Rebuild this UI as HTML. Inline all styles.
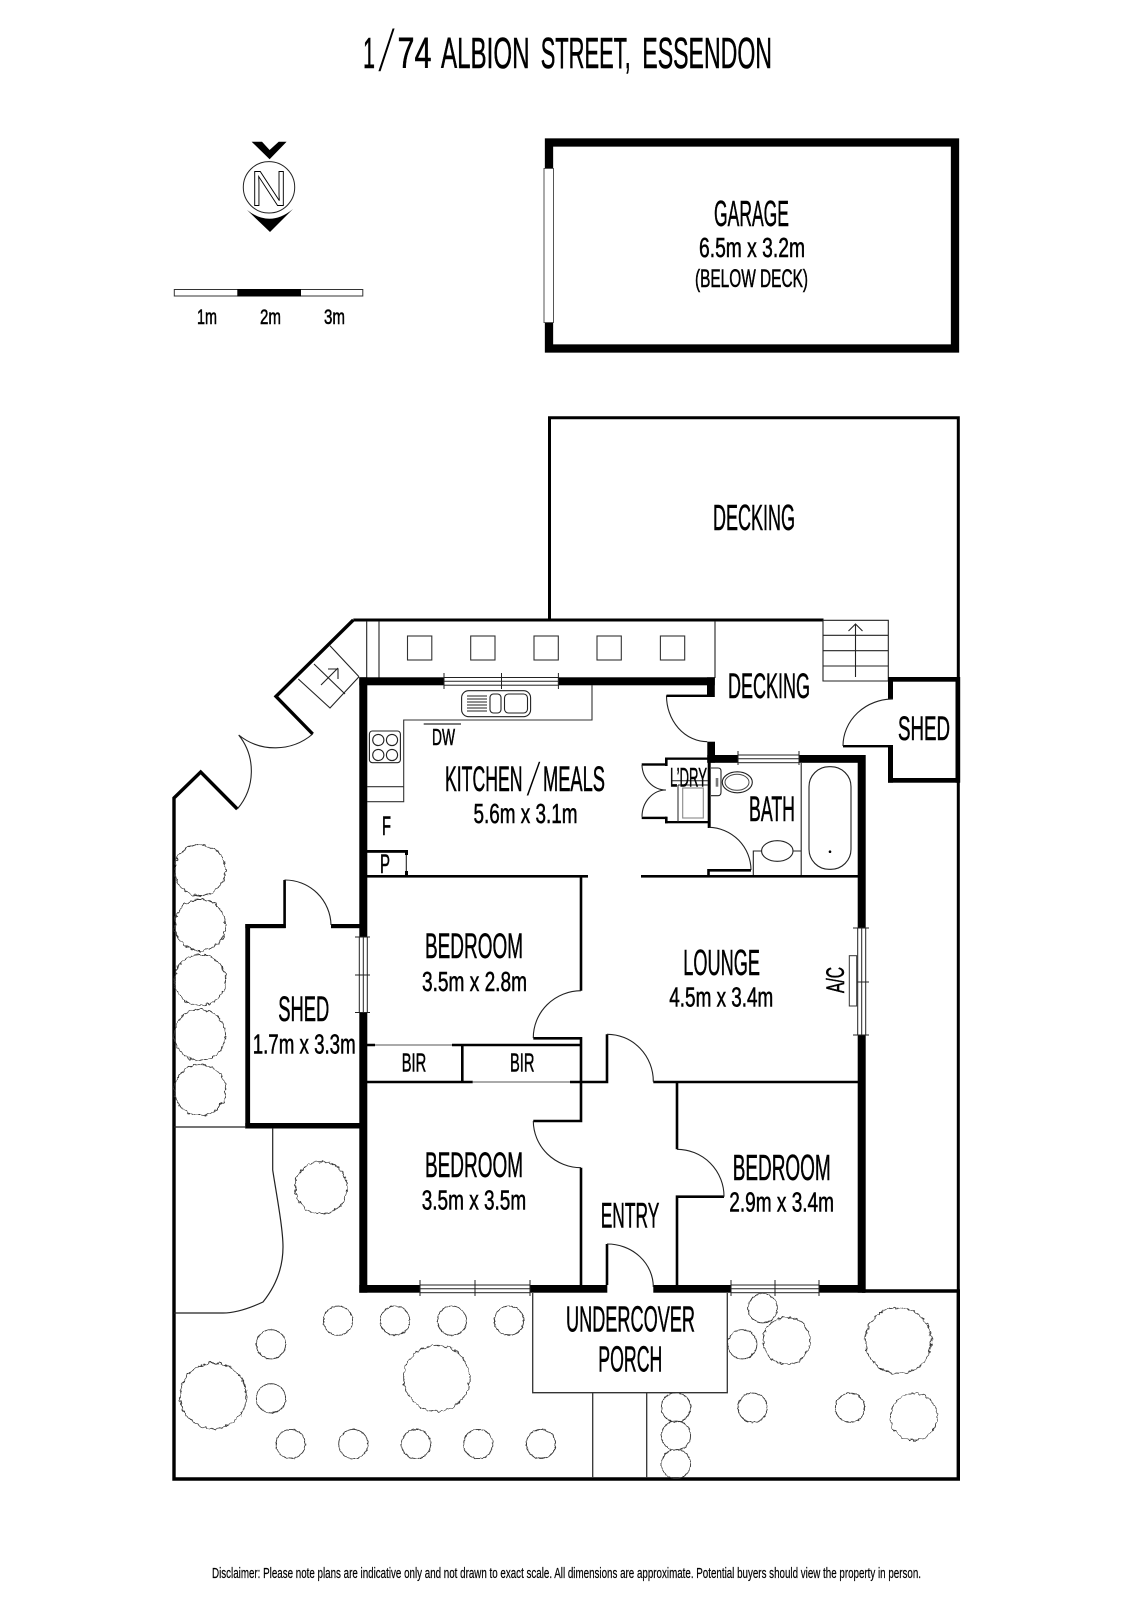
<!DOCTYPE html>
<html><head><meta charset="utf-8"><title>1/74 Albion Street, Essendon</title>
<style>html,body{margin:0;padding:0;background:#fff}svg{display:block}
text{font-family:"Liberation Sans",sans-serif;fill:#000;stroke:#000;stroke-width:.55}</style></head>
<body>
<svg xmlns="http://www.w3.org/2000/svg" width="1131" height="1600" viewBox="0 0 1131 1600">
<defs>
<filter id="s" x="-15%" y="-15%" width="130%" height="130%" color-interpolation-filters="sRGB"><feTurbulence type="fractalNoise" baseFrequency=".3" numOctaves="2" seed="4"/><feDisplacementMap in="SourceGraphic" scale="2.2" xChannelSelector="R" yChannelSelector="G"/></filter>
<filter id="b" x="-15%" y="-15%" width="130%" height="130%" color-interpolation-filters="sRGB"><feTurbulence type="fractalNoise" baseFrequency=".22" numOctaves="2" seed="9"/><feDisplacementMap in="SourceGraphic" scale="5" xChannelSelector="R" yChannelSelector="G"/></filter>
</defs>
<rect width="1131" height="1600" fill="#fff"/>

<!-- title -->
<text x="376" y="72" font-size="62" textLength="21" lengthAdjust="spacingAndGlyphs" style="stroke:#fff;stroke-width:3">/</text>
<g style="stroke-width:.8">
<text x="363" y="68" font-size="44" textLength="12" lengthAdjust="spacingAndGlyphs">1</text>
<text x="397.5" y="68" font-size="44" textLength="34" lengthAdjust="spacingAndGlyphs">74</text>
<text x="441" y="68" font-size="44" textLength="88.6" lengthAdjust="spacingAndGlyphs">ALBION</text>
<text x="540.7" y="68" font-size="44" textLength="90" lengthAdjust="spacingAndGlyphs">STREET,</text>
<text x="642.3" y="68" font-size="44" textLength="129.7" lengthAdjust="spacingAndGlyphs">ESSENDON</text>
</g>

<!-- north -->
<polygon points="251.6,141.7 262,141.7 269.6,150 278.7,141.7 286.6,141.7 269.6,159.3"/>
<circle cx="269" cy="187.3" r="25.7" fill="none" stroke="#222" stroke-width="1"/>
<text x="250.5" y="205.5" font-size="49" textLength="37" lengthAdjust="spacingAndGlyphs" style="fill:#fff;stroke:#000;stroke-width:.9">N</text>
<path d="M247,210Q270,228 293,209L270,232Z"/>

<!-- scale -->
<rect x="174.3" y="289.5" width="188.5" height="6.5" fill="#fff" stroke="#333" stroke-width="1"/>
<rect x="237.3" y="289" width="63.7" height="7.5"/>
<text x="197" y="324" font-size="21" textLength="20" lengthAdjust="spacingAndGlyphs">1m</text>
<text x="260" y="324" font-size="21" textLength="21" lengthAdjust="spacingAndGlyphs">2m</text>
<text x="324" y="324" font-size="21" textLength="21" lengthAdjust="spacingAndGlyphs">3m</text>

<!-- garage -->
<rect x="549" y="142.5" width="406" height="206" fill="none" stroke="#000" stroke-width="8.3"/>
<rect x="544" y="168.5" width="9.5" height="154" fill="#fff" stroke="#555" stroke-width="1"/>
<text x="714" y="226" font-size="36" textLength="75" lengthAdjust="spacingAndGlyphs">GARAGE</text>
<text x="699" y="257" font-size="28" textLength="106" lengthAdjust="spacingAndGlyphs">6.5m x 3.2m</text>
<text x="695" y="287" font-size="25" textLength="113" lengthAdjust="spacingAndGlyphs">(BELOW DECK)</text>

<!-- decking outline -->
<path d="M549.5,620V417.7H958.3V1291M353.3,620H823.5" fill="none" stroke="#000" stroke-width="3"/>
<text x="713" y="530" font-size="36" textLength="82" lengthAdjust="spacingAndGlyphs">DECKING</text>

<!-- yard outline -->
<path d="M353.3,620L276,696.4 312.7,734M237.3,809L200.7,772 174,798V1479H958.3V1291H862" fill="none" stroke="#000" stroke-width="3.4"/>
<path d="M312.7,734A58,58 0 0 1 238.7,735A58,58 0 0 1 237.3,809" fill="none" stroke="#222" stroke-width="1.1"/>

<!-- left stairs -->
<path d="M330,645.7L359,676.8M314,664L345,694M298.3,679L330,708 359,676.8M321,685L338,668M328,669h10v10" fill="none" stroke="#222" stroke-width="1.1"/>

<!-- deck lines/squares -->
<path d="M366.7,621V678M379,621V678M715,621V678" fill="none" stroke="#222" stroke-width="1.1"/>
<g fill="none" stroke="#333" stroke-width="1.1">
<rect x="407.5" y="636" width="24.3" height="24"/>
<rect x="470.7" y="636" width="24.3" height="24"/>
<rect x="534" y="636" width="24.3" height="24"/>
<rect x="597" y="636" width="24.3" height="24"/>
<rect x="660.4" y="636" width="24.3" height="24"/>
</g>

<!-- right stairs -->
<path d="M823,620.3H888.3V681H823ZM823,635.3H888.3M823,650.7H888.3M823,666H888.3M855.5,677V624M848.5,631L855.5,624 862.5,631" fill="none" stroke="#222" stroke-width="1.1"/>

<!-- thick walls -->
<g fill="#000">
<rect x="359.3" y="677.3" width="8" height="615.4"/>
<rect x="359.3" y="677.3" width="85" height="8"/>
<rect x="558.4" y="677.3" width="156.4" height="8"/>
<rect x="707" y="677.3" width="7.8" height="19.7"/>
<rect x="707.3" y="741.7" width="7.7" height="21"/>
<rect x="707.3" y="755" width="31" height="7.8"/>
<rect x="799" y="755" width="66.5" height="7.8"/>
<rect x="857.7" y="755" width="8" height="537.7"/>
<rect x="359.3" y="1285" width="61" height="7.7"/>
<rect x="530" y="1285" width="77.3" height="7.7"/>
<rect x="653.3" y="1285" width="77.4" height="7.7"/>
<rect x="819" y="1285" width="46" height="7.7"/>
<!-- east shed -->
<rect x="888" y="677" width="72" height="4.7"/>
<rect x="955.5" y="677" width="4.7" height="105.7"/>
<rect x="888" y="778" width="72" height="4.7"/>
<rect x="888" y="677" width="5" height="22"/>
<rect x="888" y="745.7" width="5" height="37"/>
<rect x="843" y="745" width="50" height="2.4"/>
<!-- west shed -->
<rect x="245.3" y="924" width="4.8" height="204.5"/>
<rect x="245.3" y="924" width="40.4" height="4.2"/>
<rect x="283.3" y="880" width="2.6" height="48"/>
<rect x="331" y="924" width="30" height="4.2"/>
<rect x="245.3" y="1123" width="116" height="5.5"/>
</g>
<path d="M174,1127H246M272.7,1128V1170C276,1192 283,1228 283,1247C283,1262 279,1282 263,1302C250,1308 235,1313 223,1313H174" fill="none" stroke="#222" stroke-width="1.2"/>
<path d="M284.5,880A46,46 0 0 1 331,925M843,746A50,47 0 0 1 893,699M666.5,695.5A41,46 0 0 0 707.3,741.7" fill="none" stroke="#222" stroke-width="1.1"/>
<rect x="666.5" y="694.6" width="41" height="2.4"/>

<!-- windows -->
<g fill="#fff" stroke="#222" stroke-width="1">
<rect x="444" y="677.5" width="114.4" height="7.7"/><path d="M444,681.3H558.4M444,673V689M501.5,673V689M558.4,673V689" fill="none"/>
<rect x="738" y="755" width="61" height="7.7"/><path d="M738,758.8H799M738,751V765M799,751V765" fill="none"/>
<rect x="359.3" y="937" width="8" height="75.5"/><path d="M363.3,937V1012.5M355,937H370M355,975H370M355,1012.5H370" fill="none"/>
<rect x="857.7" y="928" width="8" height="107"/><path d="M861.7,928V1035M853,928H869M853,982H869M853,1035H869" fill="none"/>
<rect x="420" y="1285" width="110" height="7.7"/><path d="M420,1288.8H530M420,1280V1296M475,1280V1296M530,1280V1296" fill="none"/>
<rect x="731" y="1285" width="88" height="7.7"/><path d="M731,1288.8H819M731,1280V1296M775,1280V1296M819,1280V1296" fill="none"/>
</g>

<!-- kitchen -->
<path d="M592,685V720H403.7V801.7H367M367,786.7H403.7" fill="none" stroke="#333" stroke-width="1.1"/>
<rect x="423.7" y="723.4" width="37.3" height="1.2" fill="#222"/>
<rect x="461.6" y="690.7" width="69" height="26" rx="7" fill="#fff" stroke="#222" stroke-width="1.1"/>
<rect x="490" y="694" width="11" height="19" rx="3.5" fill="none" stroke="#222" stroke-width="1.1"/>
<rect x="504.5" y="694" width="23" height="19" rx="4" fill="none" stroke="#222" stroke-width="1.1"/>
<path d="M467,696H487M467,699H487M467,702H487M467,705H487M467,708H487M467,711H487" stroke="#222" stroke-width="1"/>
<rect x="369.4" y="731" width="31" height="31.7" rx="3" fill="#fff" stroke="#222" stroke-width="1.1"/>
<g fill="none" stroke="#222" stroke-width="1.1"><circle cx="378.3" cy="740" r="5.6"/><circle cx="392" cy="740" r="5.6"/><circle cx="378.3" cy="755" r="5.6"/><circle cx="392" cy="755" r="5.6"/></g>
<text x="432" y="745" font-size="23" textLength="23" lengthAdjust="spacingAndGlyphs">DW</text>
<text x="382" y="835" font-size="27" textLength="9" lengthAdjust="spacingAndGlyphs">F</text>
<text x="380" y="873" font-size="27" textLength="10" lengthAdjust="spacingAndGlyphs">P</text>
<!-- pantry -->
<rect x="367" y="850" width="41" height="2.8"/>
<path d="M406.3,850V877" stroke="#222" stroke-width="1.1"/>
<rect x="405" y="850" width="3" height="5"/><rect x="405" y="871" width="3" height="6"/>
<!-- hall wall -->
<rect x="367" y="875" width="221" height="2.6"/>
<rect x="641" y="875" width="217" height="2.6"/>

<!-- laundry -->
<rect x="641.7" y="763.3" width="25" height="2.4"/>
<rect x="665" y="758" width="2.6" height="8"/>
<rect x="665" y="757.5" width="43" height="2.3"/>
<rect x="641.7" y="816.7" width="25" height="2.4"/>
<rect x="665" y="816.7" width="2.6" height="6.6"/>
<rect x="665" y="821" width="44" height="2.3"/>
<rect x="707.7" y="762" width="3" height="66"/>
<path d="M642,765A24,26 0 0 0 666,790A24,27 0 0 0 642,816.7" fill="none" stroke="#222" stroke-width="1.1"/>
<path d="M678,785H708M678,785V822M672,780.7H708" fill="none" stroke="#222" stroke-width="1"/>
<rect x="682.7" y="788" width="20.6" height="30" fill="none" stroke="#888" stroke-width="1.1"/>
<text x="670" y="786.7" font-size="27" textLength="37" lengthAdjust="spacingAndGlyphs">L’DRY</text>

<!-- bath -->
<path d="M711,768H718Q721,768 721,771V792Q721,795.7 718,795.7H711" fill="#fff" stroke="#222" stroke-width="1.1"/>
<rect x="715.7" y="778" width="2.6" height="8.7" fill="#777"/>
<ellipse cx="737.3" cy="782.3" rx="15" ry="10.5" fill="#fff" stroke="#222" stroke-width="1.1"/>
<ellipse cx="737" cy="782.3" rx="12" ry="8" fill="none" stroke="#444" stroke-width="1"/>
<path d="M801.2,763V875M753.3,875V851H801" fill="none" stroke="#222" stroke-width="1.1"/>
<ellipse cx="777.3" cy="851" rx="15.7" ry="10.3" fill="#fff" stroke="#222" stroke-width="1.1"/>
<rect x="809" y="766.7" width="42" height="102.6" rx="20" fill="#fff" stroke="#222" stroke-width="1.1"/>
<circle cx="830" cy="851.7" r="1.3"/>
<path d="M709,827.3A43,43 0 0 1 751,870" fill="none" stroke="#222" stroke-width="1.1"/>
<path d="M708.5,876V870.3H751" fill="none" stroke="#000" stroke-width="2.6"/>

<!-- interior walls -->
<g fill="none" stroke="#000" stroke-width="2.6">
<path d="M581,877V990.7"/>
<path d="M533.3,1038.3H581V1121H533.3"/>
<path d="M581,1167.7V1285"/>
<path d="M367,1045H375M452,1045H581M462.3,1045V1082M367,1082H472.7M570,1082H607V1034.3M653.3,1082H858"/>
<path d="M677,1082V1149.3M677,1285V1196.7H724"/>
<path d="M607,1285V1244"/>
</g>
<path d="M375,1045H452M472.7,1082H570" stroke="#555" stroke-width="1"/>
<path d="M581,990.7A48,47 0 0 0 533.3,1038M533.3,1121A48,47 0 0 0 581,1167.7M607,1034.3A46,47 0 0 1 653.3,1081.7M677,1149.3A47,47 0 0 1 724,1196.7M607,1244A46,43 0 0 1 653.3,1287" fill="none" stroke="#222" stroke-width="1.1"/>

<!-- A/C -->
<rect x="849.3" y="955.7" width="7.4" height="50.3" fill="#fff" stroke="#333" stroke-width="1"/>
<text transform="translate(844,993) rotate(-90)" x="0" y="0" font-size="25" textLength="26" lengthAdjust="spacingAndGlyphs">A/C</text>

<!-- porch -->
<path d="M532.7,1293V1392.7H727.3V1293M592.7,1392.7V1478M646.7,1392.7V1478" fill="none" stroke="#333" stroke-width="1.3"/>

<!-- trees -->
<g fill="none" stroke="#333" stroke-width=".9" filter="url(#b)">
<circle cx="200" cy="870" r="25.5"/>
<circle cx="200" cy="925" r="25.5"/>
<circle cx="200" cy="980" r="25.5"/>
<circle cx="200" cy="1035" r="25.5"/>
<circle cx="200" cy="1090" r="25.5"/>
<circle cx="321" cy="1187.7" r="26"/>
<circle cx="213.3" cy="1396" r="33"/>
<circle cx="436.7" cy="1378.3" r="33"/>
<circle cx="786.7" cy="1340.7" r="23.5"/>
<circle cx="898.3" cy="1340.7" r="33"/>
<circle cx="914" cy="1416.7" r="23.5"/>
</g>
<g fill="none" stroke="#333" stroke-width=".9" filter="url(#s)">
<circle cx="338" cy="1320.7" r="14.6"/>
<circle cx="395" cy="1320.7" r="14.6"/>
<circle cx="452" cy="1320.7" r="14.6"/>
<circle cx="509" cy="1320.7" r="14.6"/>
<circle cx="271" cy="1344.3" r="14.6"/>
<circle cx="271" cy="1398.3" r="14.6"/>
<circle cx="290.7" cy="1444" r="14.6"/>
<circle cx="353.3" cy="1444" r="14.6"/>
<circle cx="416" cy="1444" r="14.6"/>
<circle cx="478.3" cy="1444" r="14.6"/>
<circle cx="541" cy="1444" r="14.6"/>
<circle cx="762.7" cy="1308.3" r="14.6"/>
<circle cx="742.3" cy="1344.3" r="14.6"/>
<circle cx="752.7" cy="1407.7" r="14.6"/>
<circle cx="850" cy="1407.7" r="14.6"/>
<circle cx="676" cy="1407.3" r="14.6"/>
<circle cx="676" cy="1435.7" r="14.6"/>
<circle cx="676" cy="1464" r="14.6"/>
</g>

<!-- labels -->
<text x="728" y="698" font-size="35" textLength="82" lengthAdjust="spacingAndGlyphs">DECKING</text>
<text x="898" y="740" font-size="34" textLength="52" lengthAdjust="spacingAndGlyphs">SHED</text>
<text x="524.5" y="796" font-size="49" textLength="18" lengthAdjust="spacingAndGlyphs" style="stroke:#fff;stroke-width:2.5">/</text>
<text x="445" y="791" font-size="35" textLength="77.5" lengthAdjust="spacingAndGlyphs">KITCHEN</text>
<text x="543" y="791" font-size="35" textLength="62" lengthAdjust="spacingAndGlyphs">MEALS</text>
<text x="473.5" y="823" font-size="28" textLength="104" lengthAdjust="spacingAndGlyphs">5.6m x 3.1m</text>
<text x="749" y="821" font-size="35" textLength="46" lengthAdjust="spacingAndGlyphs">BATH</text>
<text x="425" y="958" font-size="35" textLength="98" lengthAdjust="spacingAndGlyphs">BEDROOM</text>
<text x="422" y="991" font-size="28" textLength="105" lengthAdjust="spacingAndGlyphs">3.5m x 2.8m</text>
<text x="278.3" y="1021" font-size="35" textLength="51" lengthAdjust="spacingAndGlyphs">SHED</text>
<text x="252.7" y="1053.6" font-size="28" textLength="103" lengthAdjust="spacingAndGlyphs">1.7m x 3.3m</text>
<text x="401.7" y="1071.4" font-size="26" textLength="24.5" lengthAdjust="spacingAndGlyphs">BIR</text>
<text x="510" y="1071.4" font-size="26" textLength="24.5" lengthAdjust="spacingAndGlyphs">BIR</text>
<text x="683.3" y="975" font-size="36" textLength="76.7" lengthAdjust="spacingAndGlyphs">LOUNGE</text>
<text x="669.3" y="1006.7" font-size="28" textLength="104" lengthAdjust="spacingAndGlyphs">4.5m x 3.4m</text>
<text x="425" y="1177" font-size="35" textLength="98" lengthAdjust="spacingAndGlyphs">BEDROOM</text>
<text x="421.7" y="1209.3" font-size="28" textLength="104.5" lengthAdjust="spacingAndGlyphs">3.5m x 3.5m</text>
<text x="732.7" y="1180" font-size="36" textLength="98" lengthAdjust="spacingAndGlyphs">BEDROOM</text>
<text x="729.3" y="1211.7" font-size="28" textLength="104.7" lengthAdjust="spacingAndGlyphs">2.9m x 3.4m</text>
<text x="600.7" y="1227.3" font-size="35" textLength="58.6" lengthAdjust="spacingAndGlyphs">ENTRY</text>
<text x="566" y="1331.7" font-size="36" textLength="129" lengthAdjust="spacingAndGlyphs">UNDERCOVER</text>
<text x="598.3" y="1371.7" font-size="36" textLength="64" lengthAdjust="spacingAndGlyphs">PORCH</text>

<text x="212" y="1578" font-size="14.5" textLength="709" lengthAdjust="spacingAndGlyphs" style="stroke-width:.2">Disclaimer: Please note plans are indicative only and not drawn to exact scale. All dimensions are approximate. Potential buyers should view the property in person.</text>
</svg>
</body></html>
